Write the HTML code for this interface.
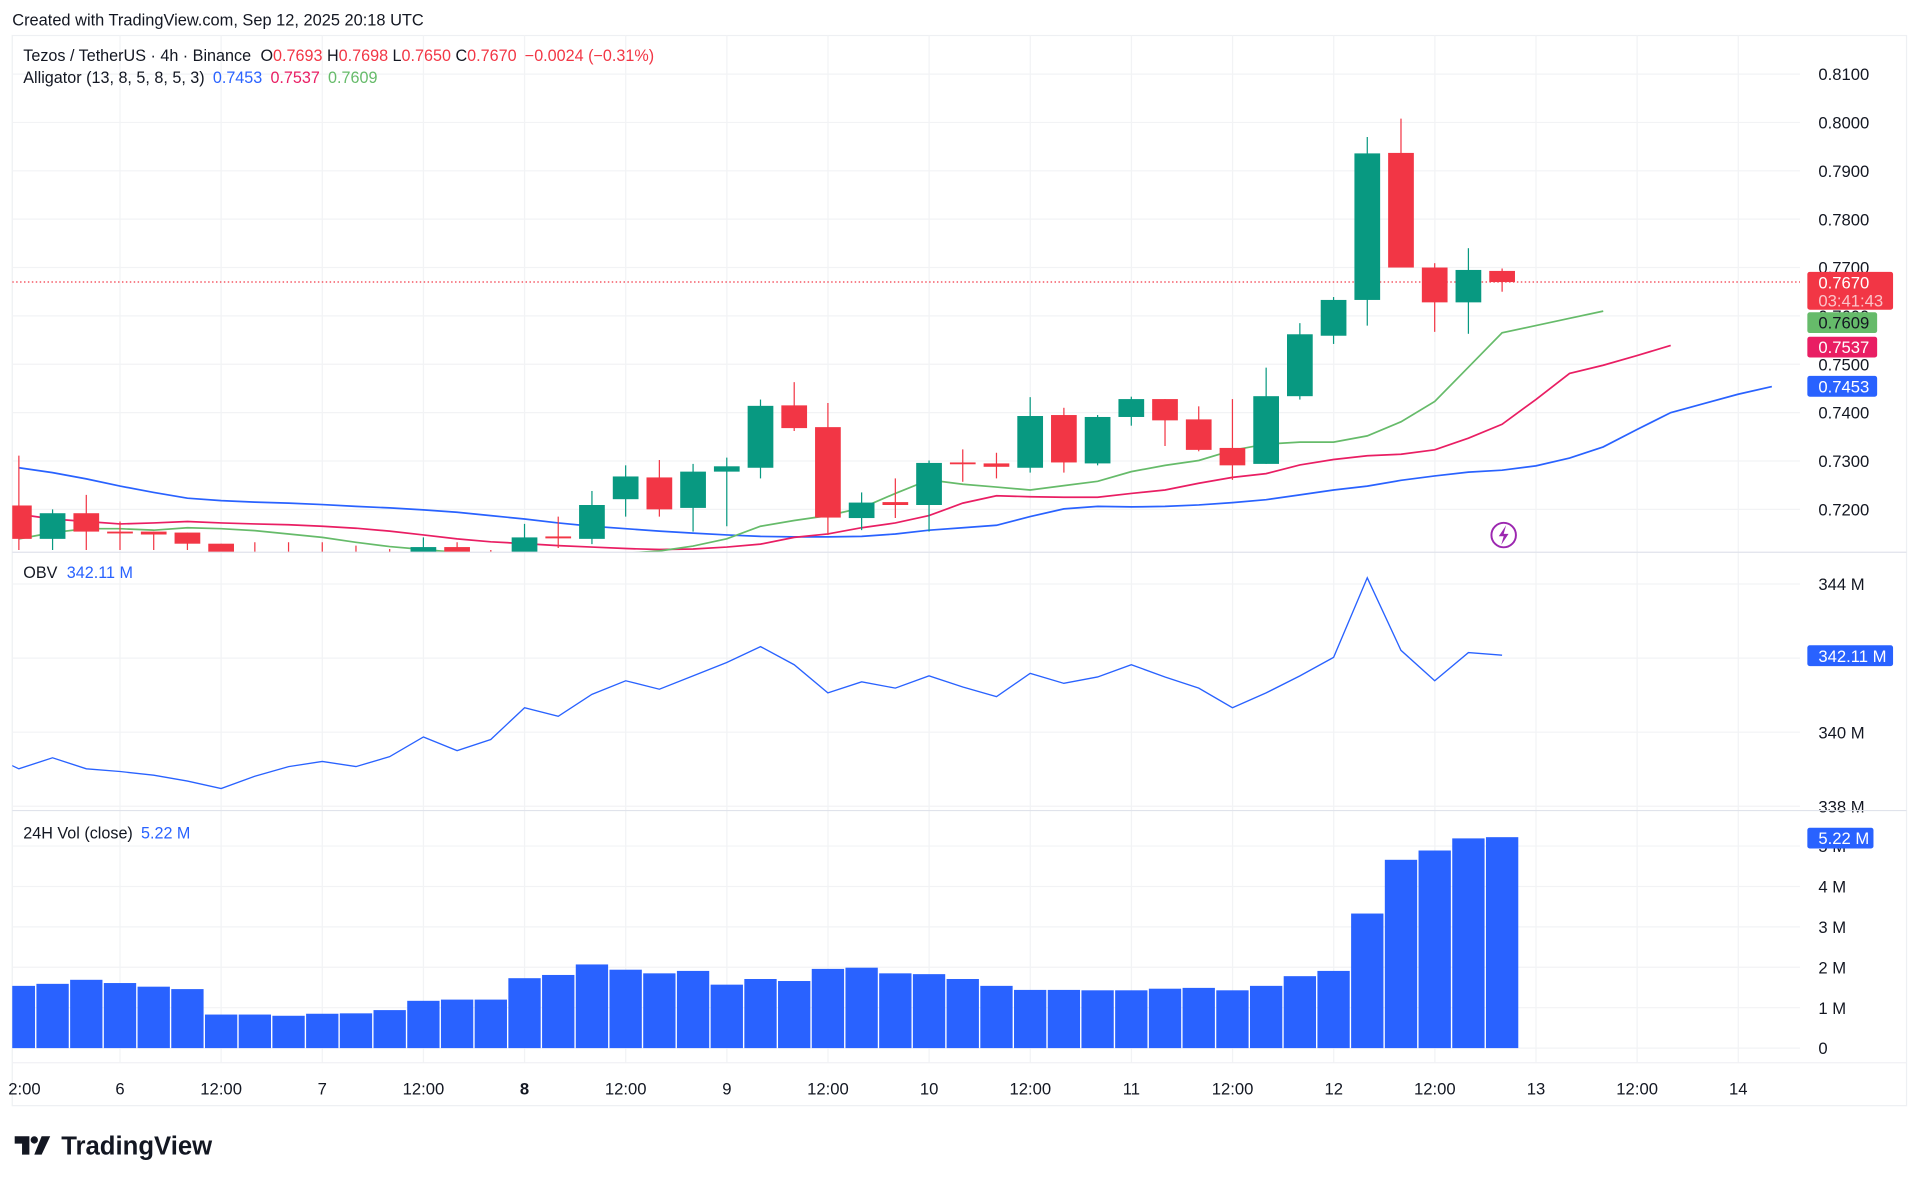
<!DOCTYPE html>
<html><head><meta charset="utf-8">
<style>
html,body{margin:0;padding:0;background:#fff;width:1920px;height:1184px;overflow:hidden}
svg{display:block;font-family:"Liberation Sans",sans-serif}
</style></head>
<body>
<svg id="chart" width="1920" height="1184" viewBox="0 0 1568 967" preserveAspectRatio="none" xmlns="http://www.w3.org/2000/svg">
<defs>
<clipPath id="cMain"><rect x="10" y="29" width="1460" height="422"/></clipPath>
<clipPath id="cObv"><rect x="10" y="451" width="1460" height="211"/></clipPath>
<clipPath id="cVol"><rect x="10" y="662" width="1460" height="206"/></clipPath>
</defs>
<text x="10" y="21" font-size="13.4" fill="#131722">Created with TradingView.com, Sep 12, 2025 20:18 UTC</text>
<rect x="10" y="29" width="1547" height="874" fill="none" stroke="#eef0f3" stroke-width="1"/>
<g id="grid"></g>
<g id="vol" clip-path="url(#cVol)"></g>
<g id="obv" clip-path="url(#cObv)"></g>
<g id="main" clip-path="url(#cMain)"></g>
<g id="axes"></g>
<g font-size="13.2">
<text x="19" y="50" fill="#131722">Tezos / TetherUS · 4h · Binance <tspan dx="4" fill="#131722">O</tspan><tspan fill="#f23645">0.7693</tspan> <tspan fill="#131722">H</tspan><tspan fill="#f23645">0.7698</tspan> <tspan fill="#131722">L</tspan><tspan fill="#f23645">0.7650</tspan> <tspan fill="#131722">C</tspan><tspan fill="#f23645">0.7670</tspan> <tspan dx="3" fill="#f23645">−0.0024 (−0.31%)</tspan></text>
<text x="19" y="68" fill="#131722">Alligator (13, 8, 5, 8, 5, 3) <tspan dx="3" fill="#2962ff">0.7453</tspan> <tspan dx="3" fill="#e91e63">0.7537</tspan> <tspan dx="3" fill="#66bb6a">0.7609</tspan></text>
<text x="19" y="472" fill="#131722">OBV <tspan fill="#2962ff" dx="4">342.11 M</tspan></text>
<text x="19" y="685" fill="#131722">24H Vol (close) <tspan fill="#2962ff" dx="3">5.22 M</tspan></text>
</g>
<g>
<circle cx="1228" cy="437" r="10" fill="none" stroke="#9c27b0" stroke-width="1.6"/>
<path d="M1230 429 L1224 438 L1228 438 L1226 445 L1232 436 L1228 436 Z" fill="#9c27b0"/>
</g>
<g>
<path d="M12 928 H24 V943 H18 V934 H12 Z" fill="#131722"/>
<circle cx="28" cy="931" r="3" fill="#131722"/>
<path d="M34 928 H41 L34 943 H28 Z" fill="#131722"/>
<text x="50" y="943" font-size="21" font-weight="bold" fill="#131722">TradingView</text>
</g>
</svg>
<script>
const open_=[0.7208,0.7139,0.7192,0.7154,0.7154,0.7152,0.7129,0.7095,0.7095,0.7095,0.7095,0.7095,0.7105,0.7122,0.7100,0.7105,0.7144,0.7139,0.7221,0.7266,0.7203,0.7278,0.7286,0.7415,0.7370,0.7182,0.7215,0.7209,0.7297,0.7295,0.7286,0.7395,0.7295,0.7391,0.7428,0.7386,0.7327,0.7294,0.7434,0.7559,0.7633,0.7937,0.7700,0.7628,0.7693];
const close_=[0.7139,0.7192,0.7154,0.7151,0.7148,0.7129,0.7110,0.7090,0.7090,0.7090,0.7090,0.7090,0.7122,0.7108,0.7098,0.7142,0.7140,0.7209,0.7268,0.7200,0.7278,0.7289,0.7414,0.7368,0.7183,0.7214,0.7209,0.7296,0.7294,0.7288,0.7393,0.7297,0.7391,0.7428,0.7384,0.7323,0.7291,0.7434,0.7562,0.7633,0.7936,0.7700,0.7628,0.7695,0.7670];
const high_=[0.7311,0.7200,0.7230,0.7175,0.7154,0.7152,0.7129,0.7132,0.7132,0.7132,0.7125,0.7118,0.7142,0.7132,0.7116,0.7170,0.7185,0.7238,0.7291,0.7302,0.7294,0.7307,0.7427,0.7463,0.7420,0.7235,0.7264,0.7301,0.7324,0.7317,0.7432,0.7410,0.7395,0.7433,0.7428,0.7413,0.7428,0.7493,0.7585,0.7639,0.7970,0.8008,0.7709,0.7740,0.7698];
const low_=[0.7116,0.7116,0.7116,0.7116,0.7116,0.7116,0.7100,0.7080,0.7080,0.7080,0.7080,0.7080,0.7100,0.7100,0.7090,0.7100,0.7120,0.7128,0.7185,0.7185,0.7154,0.7165,0.7264,0.7362,0.7147,0.7157,0.7182,0.7154,0.7257,0.7264,0.7276,0.7276,0.7291,0.7373,0.7331,0.7320,0.7261,0.7294,0.7427,0.7542,0.7580,0.7700,0.7567,0.7563,0.7650];
const jaw=[0.7286,0.7276,0.7263,0.7248,0.7235,0.7223,0.7218,0.7215,0.7213,0.7210,0.7206,0.7203,0.7199,0.7194,0.7187,0.7180,0.7172,0.7165,0.7160,0.7155,0.7151,0.7147,0.7144,0.7143,0.7143,0.7144,0.7149,0.7157,0.7162,0.7167,0.7185,0.7201,0.7206,0.7205,0.7206,0.7209,0.7214,0.7220,0.7230,0.7240,0.7248,0.7260,0.7269,0.7277,0.7281,0.7290,0.7306,0.7329,0.7365,0.7400,0.7419,0.7438,0.7454];
const teeth=[0.7190,0.7180,0.7175,0.7170,0.7172,0.7175,0.7172,0.7170,0.7168,0.7165,0.7161,0.7155,0.7147,0.7139,0.7133,0.7129,0.7125,0.7122,0.7119,0.7117,0.7118,0.7122,0.7128,0.7142,0.7149,0.7162,0.7172,0.7187,0.7213,0.7228,0.7226,0.7225,0.7225,0.7233,0.7240,0.7254,0.7266,0.7274,0.7292,0.7303,0.7311,0.7314,0.7323,0.7347,0.7376,0.7427,0.7481,0.7498,0.7518,0.7539];
const lips=[0.7139,0.7152,0.7160,0.7160,0.7157,0.7162,0.7160,0.7156,0.7149,0.7142,0.7132,0.7123,0.7117,0.7111,0.7106,0.7104,0.7104,0.7106,0.7109,0.7114,0.7124,0.7139,0.7165,0.7177,0.7187,0.7203,0.7233,0.7261,0.7252,0.7246,0.7240,0.7249,0.7258,0.7278,0.7291,0.7301,0.7322,0.7335,0.7339,0.7339,0.7352,0.7381,0.7423,0.7494,0.7565,0.7580,0.7595,0.7610];
const obvVals=[339.44,339.01,339.31,339.01,338.94,338.84,338.68,338.48,338.81,339.07,339.21,339.07,339.34,339.87,339.50,339.80,340.66,340.43,341.02,341.39,341.16,341.52,341.88,342.31,341.82,341.06,341.36,341.19,341.52,341.22,340.96,341.59,341.32,341.49,341.82,341.49,341.19,340.66,341.06,341.52,342.02,344.17,342.21,341.39,342.15,342.08];
const volVals=[1.54,1.59,1.69,1.61,1.52,1.46,0.83,0.83,0.80,0.85,0.86,0.94,1.17,1.20,1.20,1.73,1.81,2.07,1.94,1.85,1.91,1.57,1.71,1.66,1.96,1.99,1.85,1.83,1.71,1.54,1.44,1.44,1.43,1.43,1.47,1.49,1.43,1.54,1.78,1.91,3.33,4.66,4.89,5.19,5.22];
const priceTicks=[0.8100,0.8000,0.7900,0.7800,0.7700,0.7600,0.7500,0.7400,0.7300,0.7200];
const obvTicks=[344,342,340,338];
const volTicks=[0,1,2,3,4,5];
const timeLabels=["2:00","6","12:00","7","12:00","8","12:00","9","12:00","10","12:00","11","12:00","12","12:00","13","12:00","14"];
const timeSlots=[-1,0,1,2,3,4,5,6,7,8,9,10,11,12,13,14,15,16]; // 12h units from Sep 6 00:00

const NS="http://www.w3.org/2000/svg";
function mk(t,a,p){const e=document.createElementNS(NS,t);for(const k in a)e.setAttribute(k,a[k]);p.appendChild(e);return e;}
const X=k=>98+k*27.53;
const Yp=p=>100+(0.8-p)*3950;
const Yo=v=>477+(344-v)*30.25;
const Yv=v=>856-v*33;
const X12=s=>98+s*82.6;
const FS=13.6;

const grid=document.getElementById('grid'),axes=document.getElementById('axes');
const mainG=document.getElementById('main'),obvG=document.getElementById('obv'),volG=document.getElementById('vol');

timeLabels.forEach((lab,i)=>{
  const x=i===0?20:X12(timeSlots[i]);
  if(i>0){const l=mk('line',{x1:x,x2:x,y1:29,y2:868,stroke:'#f2f3f5','stroke-width':1},grid);
  
  }
  const t=mk('text',{x:x,y:894,'font-size':FS,'text-anchor':'middle',fill:'#131722','font-weight':lab==='8'?'bold':'normal'},axes);
  t.textContent=lab;
  
  
});
priceTicks.forEach(p=>{
  const y=Yp(p);
  const l=mk('line',{x1:10,x2:1470,y1:y,y2:y,stroke:'#f2f3f5','stroke-width':1},grid);
  
  
  const t=mk('text',{x:1485,y:y+5,'font-size':FS,fill:'#131722'},axes);
  t.textContent=p.toFixed(4);
  
  
});
obvTicks.forEach(v=>{
  const y=Yo(v);
  const l=mk('line',{x1:10,x2:1470,y1:y,y2:y,stroke:'#f2f3f5','stroke-width':1},grid);
  
  
  const t=mk('text',{x:1485,y:y+5,'font-size':FS,fill:'#131722'},axes);
  t.textContent=v+' M';
  
  
});
volTicks.forEach(v=>{
  const y=Yv(v);
  const l=mk('line',{x1:10,x2:1470,y1:y,y2:y,stroke:'#f2f3f5','stroke-width':1},grid);
  
  
  const t=mk('text',{x:1485,y:y+5,'font-size':FS,fill:'#131722'},axes);
  t.textContent=v===0?'0':v+' M';
  
  
});
[451,662].forEach(y=>{const l=mk('line',{x1:10,x2:1557,y1:y,y2:y,stroke:'#e0e3eb','stroke-width':1},axes);

});
{const l=mk('line',{x1:10,x2:1557,y1:868,y2:868,stroke:'#f0f1f4','stroke-width':1},axes);

}

volVals.forEach((v,i)=>{
  const k=i-3,x=X(k);
  const r=mk('rect',{x:x-13.2,y:Yv(v),width:26.4,height:856-Yv(v),fill:'#2962ff'},volG);
  
  
});

{const pts=obvVals.map((v,i)=>X(i-4).toFixed(1)+','+Yo(v).toFixed(1)).join(' ');
const pl=mk('polyline',{points:pts,fill:'none',stroke:'#2962ff','stroke-width':1.1},obvG);

}

{const l=mk('line',{x1:10,x2:1476,y1:Yp(0.7670),y2:Yp(0.7670),stroke:'#f23645','stroke-width':1,'stroke-dasharray':'1.2 2'},mainG);

}

function line(arr,col,name){
  const pts=arr.map((v,i)=>X(i-3).toFixed(1)+','+Yp(v).toFixed(1)).join(' ');
  const pl=mk('polyline',{points:pts,fill:'none',stroke:col,'stroke-width':1.4},mainG);
  
  
}
line(jaw,'#2962ff','alligator-jaw');
line(teeth,'#e91e63','alligator-teeth');
line(lips,'#66bb6a','alligator-lips');

open_.forEach((o,i)=>{
  const c=close_[i],k=i-3,x=X(k),col=c>=o?'#089981':'#f23645';
  const g=mk('g',{},mainG);
  
  
  mk('line',{x1:x,x2:x,y1:Yp(high_[i]),y2:Yp(low_[i]),stroke:col,'stroke-width':1},g);
  const top=Math.min(Yp(o),Yp(c)),h=Math.max(1.5,Math.abs(Yp(o)-Yp(c)));
  mk('rect',{x:x-10.5,y:top,width:21,height:h,fill:col},g);
});

function tag(x,y,w,h,bg,fg,lines,name){
  const g=mk('g',{},axes);
  
  
  mk('rect',{x:x,y:y,width:w,height:h,rx:2,fill:bg},g);
  lines.forEach((s,j)=>{const t=mk('text',{x:x+9,y:y+13.5+j*15,'font-size':FS,fill:j?'#fbc3c8':fg},g);t.textContent=s;});
}
tag(1476,222,70,31,'#f23645','#fff',['0.7670','03:41:43'],'last-price-tag');
tag(1476,255,57,17,'#66bb6a','#131722',['0.7609'],'lips-price-tag');
tag(1476,275,57,17,'#e91e63','#fff',['0.7537'],'teeth-price-tag');
tag(1476,307,57,17,'#2962ff','#fff',['0.7453'],'jaw-price-tag');
tag(1476,527,70,17,'#2962ff','#fff',['342.11 M'],'obv-value-tag');
tag(1476,676,54,17,'#2962ff','#fff',['5.22 M'],'volume-value-tag');
</script>
</body></html>
